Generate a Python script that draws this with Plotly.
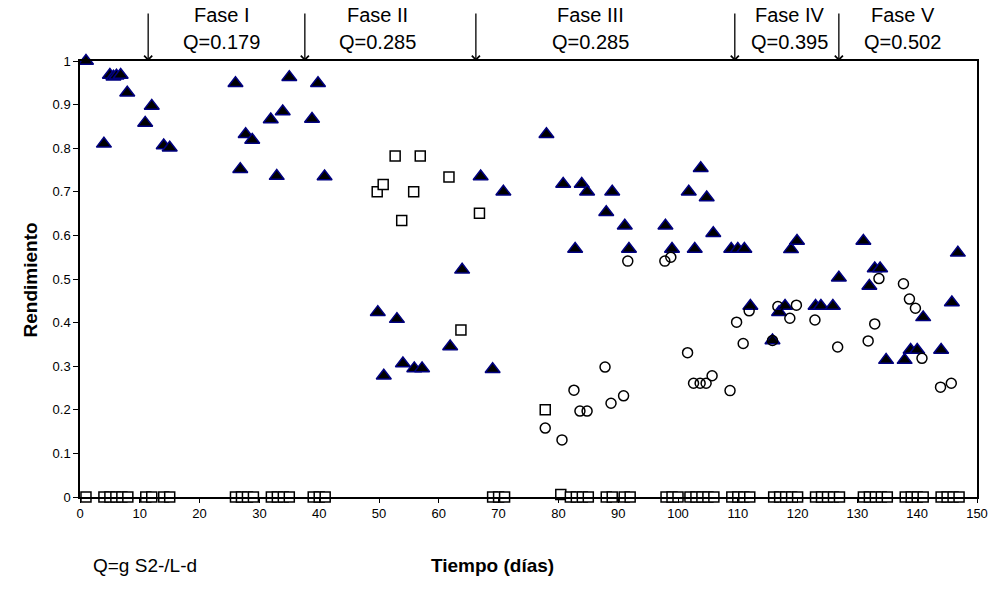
import plotly.graph_objects as go

# --- data ---
tri_x = [1, 4, 5, 5.6, 6.1, 6.8, 7.9, 10.9, 12, 14, 15, 26, 26.8, 27.7, 28.8, 31.9, 32.9, 33.9, 35,
         38.8, 39.8, 40.9, 49.8, 50.8, 53, 54, 55.9, 57.2, 61.9, 63.9, 67, 69, 70.8, 78, 80.8, 82.8,
         83.9, 84.8, 88, 89, 91.1, 91.8, 97.9, 99, 101.8, 102.8, 103.8, 104.8, 105.9, 108.9, 110,
         111.1, 112.1, 115.8, 116.9, 117.9, 118.9, 119.9, 123, 123.9, 125.9, 126.9, 131, 132, 132.9,
         133.8, 134.8, 137.9, 138.9, 140, 141, 144, 145.8, 146.8]
tri_y = [1.0, 0.81, 0.968, 0.964, 0.966, 0.968, 0.927, 0.858, 0.897, 0.806, 0.801, 0.949, 0.752, 0.832,
         0.819, 0.866, 0.736, 0.884, 0.963, 0.867, 0.949, 0.735, 0.424, 0.278, 0.408, 0.306, 0.295,
         0.295, 0.345, 0.521, 0.735, 0.293, 0.700, 0.832, 0.718, 0.569, 0.718, 0.700, 0.653, 0.700,
         0.622, 0.569, 0.622, 0.569, 0.700, 0.569, 0.754, 0.687, 0.605, 0.569, 0.569, 0.569, 0.438,
         0.359, 0.424, 0.438, 0.568, 0.587, 0.438, 0.438, 0.438, 0.503, 0.587, 0.484, 0.524, 0.524,
         0.314, 0.314, 0.337, 0.337, 0.412, 0.337, 0.446, 0.560]

sq_x = [1, 4, 5, 6, 7, 8, 11, 12, 14, 15, 26, 27, 28, 29, 32, 33, 34, 35, 39, 40, 41,
        49.7, 50.7, 52.7, 53.8, 55.8, 56.9, 61.7, 63.7, 66.8,
        69, 70, 71, 77.8, 80.4, 82, 83, 84, 85, 88, 89, 91, 92, 98, 99, 100, 102, 103, 104, 105, 106,
        109, 110, 111, 112, 116, 117, 118, 119, 120, 123, 124, 125, 126, 127, 131, 132, 133, 134, 135,
        138, 139, 140, 141, 144, 145, 146, 147]
sq_y = [0] * 21 + [0.700, 0.717, 0.782, 0.634, 0.700, 0.782, 0.734, 0.383, 0.651] + \
       [0, 0, 0, 0.2, 0.006] + [0] * 43

ci_x = [77.8, 80.6, 82.6, 83.6, 84.8, 87.8, 88.8, 90.9, 91.6, 97.8, 98.8, 101.6, 102.6, 103.7, 104.7,
        105.7, 108.7, 109.8, 110.9, 111.9, 115.8, 116.7, 118.7, 119.8, 122.9, 126.7, 131.8, 132.9,
        133.6, 137.7, 138.7, 139.7, 140.8, 143.9, 145.7]
ci_y = [0.158, 0.131, 0.245, 0.197, 0.197, 0.298, 0.215, 0.232, 0.541, 0.541, 0.550, 0.331, 0.261,
        0.261, 0.261, 0.278, 0.244, 0.401, 0.352, 0.427, 0.359, 0.437, 0.410, 0.440, 0.406, 0.344,
        0.358, 0.397, 0.501, 0.489, 0.454, 0.433, 0.318, 0.252, 0.261]

phase_bounds = [11.4, 37.6, 66.2, 109.5, 126.9]
phase_names = ["Fase I", "Fase II", "Fase III", "Fase IV", "Fase V"]
phase_q = ["Q=0.179", "Q=0.285", "Q=0.285", "Q=0.395", "Q=0.502"]
phase_label_x = [23.7, 49.8, 85.3, 118.7, 137.6]

FONT = "Arial, Liberation Sans, sans-serif"

fig = go.Figure()
fig.add_trace(go.Scatter(x=tri_x, y=tri_y, mode="markers", cliponaxis=False,
                         marker=dict(symbol="triangle-up", size=13, color="black",
                                     line=dict(color="#000080", width=1.5))))
fig.add_trace(go.Scatter(x=sq_x, y=sq_y, mode="markers", cliponaxis=False,
                         marker=dict(symbol="square", size=10, color="white",
                                     line=dict(color="black", width=1.5))))
fig.add_trace(go.Scatter(x=ci_x, y=ci_y, mode="markers", cliponaxis=False,
                         marker=dict(symbol="circle-open", size=10, color="black",
                                     line=dict(color="black", width=1.5))))

ann = []
for b in phase_bounds:
    ann.append(dict(x=b, y=1, xref="x", yref="paper", text="", showarrow=True,
                    ax=0, ay=-49, arrowhead=4, arrowsize=1.2, arrowwidth=1.3,
                    arrowcolor="black", standoff=0))
for xn, nm, q in zip(phase_label_x, phase_names, phase_q):
    ann.append(dict(x=xn, y=1.1055, xref="x", yref="paper", text=nm, showarrow=False,
                    font=dict(size=20, family=FONT, color="black"), yanchor="middle"))
    ann.append(dict(x=xn, y=1.0436, xref="x", yref="paper", text=q, showarrow=False,
                    font=dict(size=20, family=FONT, color="black"), yanchor="middle"))
ann.append(dict(x=0.46, y=-0.156, xref="paper", yref="paper", text="<b>Tiempo (días)</b>",
                showarrow=False, font=dict(size=19, family=FONT, color="black"), yanchor="middle"))
ann.append(dict(x=0.012, y=-0.158, xref="paper", yref="paper", text="Q=g S2-/L-d",
                showarrow=False, xanchor="left", font=dict(size=19, family=FONT, color="black"),
                yanchor="middle"))
ann.append(dict(x=-0.069, y=0.498, xref="paper", yref="paper", text="<b>Rendimiento</b>",
                showarrow=False, textangle=-90, font=dict(size=19, family=FONT, color="black")))

fig.update_layout(
    width=989, height=590,
    margin=dict(l=80, r=12, t=61, b=93, autoexpand=False),
    paper_bgcolor="white", plot_bgcolor="white",
    showlegend=False,
    font=dict(family=FONT, size=13, color="black"),
    annotations=ann,
    xaxis=dict(range=[0, 150], dtick=10, tick0=0, showline=True, linecolor="black", linewidth=1.5,
               mirror=True, ticks="outside", ticklen=4, tickcolor="black", showgrid=False,
               zeroline=False, tickfont=dict(size=13)),
    yaxis=dict(range=[0, 1], dtick=0.1, tick0=0, showline=True, linecolor="black", linewidth=1.5,
               mirror=True, ticks="outside", ticklen=5, tickcolor="black", showgrid=False,
               zeroline=False, tickfont=dict(size=13)),
)

fig.write_html("out.html", config={"displayModeBar": False},
               post_script="document.body.style.margin='0';document.body.style.overflow='hidden';")
